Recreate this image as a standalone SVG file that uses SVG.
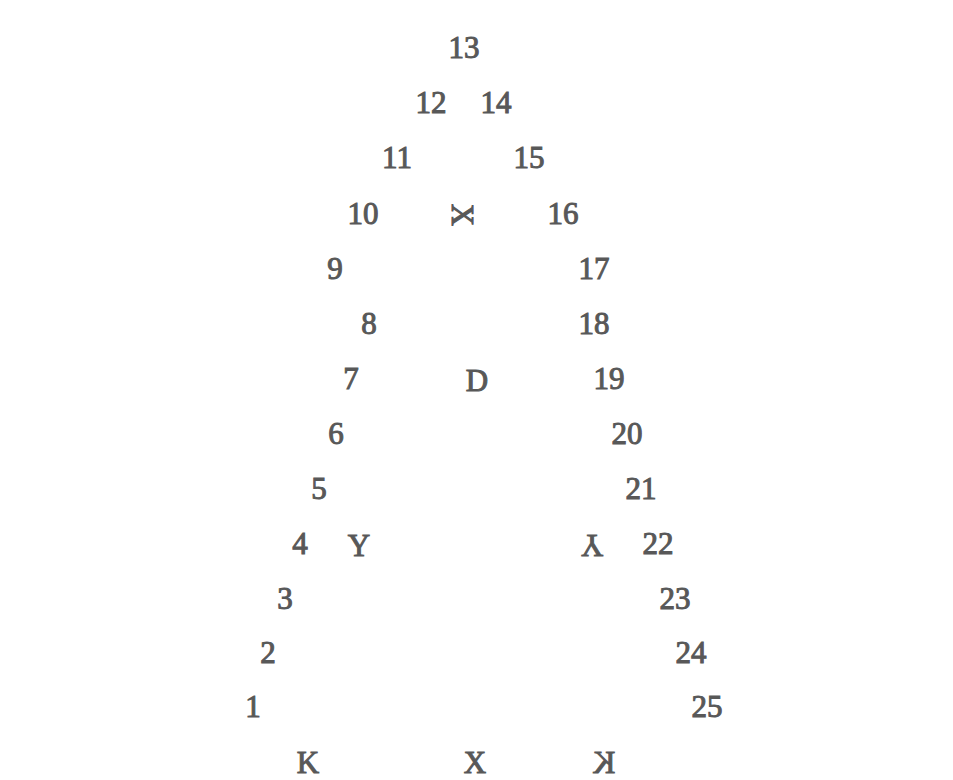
<svg xmlns="http://www.w3.org/2000/svg" width="953" height="780" viewBox="0 0 953 780">
<style>
text{font-family:"Liberation Serif","Times New Roman",serif;font-size:31px;fill:#585858;stroke:#585858;stroke-width:1;text-anchor:middle}
</style>
<rect width="953" height="780" fill="#fff"/>
<g id="numbers">
<text x="464" y="58">13</text>
<text x="431" y="113">12</text>
<text x="496" y="113">14</text>
<text x="397" y="168">11</text>
<text x="529" y="168">15</text>
<text x="363" y="224">10</text>
<text x="563" y="224">16</text>
<text x="335" y="279">9</text>
<text x="594" y="279">17</text>
<text x="369" y="334">8</text>
<text x="594" y="334">18</text>
<text x="351" y="389">7</text>
<text x="609" y="389">19</text>
<text x="336" y="444">6</text>
<text x="627" y="444">20</text>
<text x="319" y="499">5</text>
<text x="641" y="499">21</text>
<text x="300" y="554">4</text>
<text x="658" y="554">22</text>
<text x="285" y="609">3</text>
<text x="675" y="609">23</text>
<text x="268" y="663">2</text>
<text x="691" y="663">24</text>
<text x="253" y="717">1</text>
<text x="707" y="717">25</text>
</g>
<g id="letters">
<text transform="translate(462,215) rotate(90)" y="10.5">X</text>
<text x="477" y="391">D</text>
<text x="359" y="556">Y</text>
<text transform="translate(592,545) rotate(180)" y="10.5">Y</text>
<text x="308" y="773">K</text>
<text x="475" y="773">X</text>
<text transform="translate(604,773) scale(-1,1)">K</text>
</g>
</svg>
